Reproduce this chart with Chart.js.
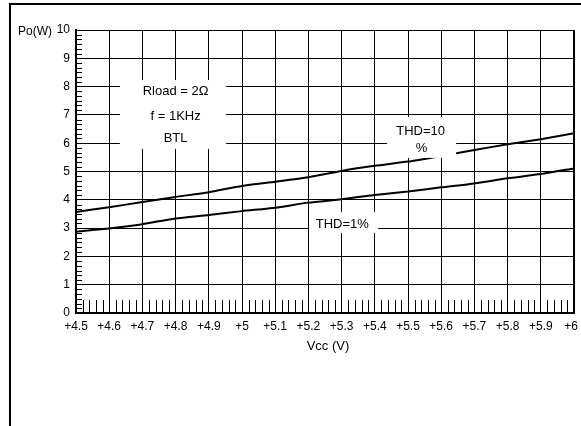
<!DOCTYPE html>
<html>
<head>
<meta charset="utf-8">
<script src="https://cdn.jsdelivr.net/npm/chart.js@4/dist/chart.umd.min.js"></script>
<style>
  html, body { margin: 0; padding: 0; background: #fff; }
  #wrap { position: relative; width: 581px; height: 426px; overflow: hidden; }
  #frame { position: absolute; left: 9px; top: 3px; right: -2px; bottom: -2px;
           border-left: 2px solid #000; border-top: 2px solid #000; }
  canvas { position: absolute; left: 0; top: 0; }
</style>
</head>
<body>
<div id="wrap">
  <div id="frame"></div>
  <canvas id="c" width="581" height="426"></canvas>
</div>
<script>
/* ===== datos ===== */
const vcc   = [4.5, 4.6, 4.7, 4.8, 4.9, 5.0, 5.1, 5.2, 5.3, 5.4, 5.5, 5.6, 5.7, 5.8, 5.9, 6.0];
const thd10 = [3.57, 3.74, 3.92, 4.10, 4.27, 4.49, 4.64, 4.80, 5.02, 5.20, 5.35, 5.55, 5.76, 5.96, 6.14, 6.35];
const thd1  = [2.87, 2.99, 3.14, 3.34, 3.46, 3.60, 3.72, 3.90, 4.02, 4.17, 4.29, 4.44, 4.58, 4.76, 4.91, 5.11];
const xMin = 4.5, xMax = 6.0, xStep = 0.1;
const yMin = 0, yMax = 10, yStep = 1;

/* etiquetas dentro del grafico (caja blanca + texto, en coords de datos) */
const notes = [
  { box: [4.632, 8.23, 4.952, 5.80], lines: [['Rload = 2Ω', 4.8, 7.84], ['f = 1KHz', 4.8, 6.96], ['BTL', 4.8, 6.18]] },
  { box: [5.437, 6.93, 5.645, 5.48], lines: [['THD=10', 5.538, 6.41], ['%', 5.541, 5.82]] },
  { box: [5.202, 3.57, 5.410, 2.83], lines: [['THD=1%', 5.302, 3.14]] },
];

const FONT = '"Liberation Sans", Arial, Helvetica, sans-serif';
const pts = (ys) => vcc.map((v, i) => ({ x: v, y: ys[i] }));
const fmtX = (v) => '+' + Number(v.toFixed(1));

/* ===== plugin: ticks menores, etiquetas X, cajas de texto, titulos ===== */
const decor = {
  id: 'decor',
  afterDatasetsDraw(chart) {
    const { ctx, chartArea: a, scales: { x, y } } = chart;
    ctx.save();
    ctx.strokeStyle = '#000';
    ctx.lineWidth = 1;
    ctx.beginPath();
    const nx = Math.round((xMax - xMin) / xStep);
    for (let i = 0; i < nx; i++) {
      for (let k = 1; k <= 4; k++) {
        const px = Math.round(x.getPixelForValue(xMin + i * xStep + k * xStep / 5)) + 0.5;
        ctx.moveTo(px, a.bottom);
        ctx.lineTo(px, a.bottom - 13);
      }
    }
    for (let i = yMin; i < yMax; i++) {
      for (let k = 1; k <= 5; k++) {
        const py = Math.round(y.getPixelForValue(i + k / 6)) + 0.5;
        ctx.moveTo(a.left, py);
        ctx.lineTo(a.left + 6, py);
      }
    }
    ctx.stroke();

    // etiquetas del eje X (la ultima se corre un poco para no cortarse)
    ctx.fillStyle = '#000';
    ctx.font = '12px ' + FONT;
    ctx.textBaseline = 'middle';
    x.ticks.forEach((t, i) => {
      const last = i === x.ticks.length - 1;
      ctx.textAlign = last ? 'right' : 'center';
      const px = x.getPixelForValue(t.value) + (last ? 4 : 0);
      ctx.fillText(fmtX(t.value), px, a.bottom + 14);
    });

    // cajas
    ctx.font = '13px ' + FONT;
    ctx.textAlign = 'center';
    for (const n of notes) {
      const [x0, y0, x1, y1] = n.box;
      const l = x.getPixelForValue(x0), t = y.getPixelForValue(y0);
      const r = x.getPixelForValue(x1), b = y.getPixelForValue(y1);
      ctx.fillStyle = '#fff';
      ctx.fillRect(l, t, r - l, b - t);
      ctx.fillStyle = '#000';
      for (const [txt, tx, ty] of n.lines) {
        ctx.fillText(txt, x.getPixelForValue(tx), y.getPixelForValue(ty));
      }
    }

    // titulos de ejes
    ctx.fillText('Vcc (V)', (a.left + a.right) / 2 + 3, a.bottom + 33);
    ctx.font = '12px ' + FONT;
    ctx.textAlign = 'left';
    ctx.fillText('Po(W)', 18, a.top + 2);
    ctx.restore();
  }
};

const line = (data) => ({
  data,
  borderColor: '#000',
  borderWidth: 2,
  pointRadius: 0,
  tension: 0.2,
  fill: false,
});

new Chart(document.getElementById('c'), {
  type: 'line',
  data: { datasets: [line(pts(thd10)), line(pts(thd1))] },
  options: {
    responsive: false,
    animation: false,
    events: [],
    layout: { padding: { left: 0, top: 30, right: 7, bottom: 83 } },
    plugins: { legend: { display: false }, tooltip: { enabled: false } },
    scales: {
      x: {
        type: 'linear',
        min: xMin, max: xMax,
        ticks: { stepSize: xStep, display: false, autoSkip: false },
        grid: {
          color: '#000',
          drawTicks: false,
          lineWidth: (c) => (c.tick && Math.abs(c.tick.value - xMax) < 1e-6 ? 2 : 1),
        },
        border: { display: true, color: '#000', width: 2 },
        afterFit: (s) => { s.height = 30; s.paddingLeft = 0; s.paddingRight = 0; },
      },
      y: {
        min: yMin, max: yMax,
        ticks: {
          stepSize: yStep,
          padding: 6,
          color: '#000',
          font: { family: FONT, size: 12 },
        },
        grid: { color: '#000', drawTicks: false, lineWidth: 1 },
        border: { display: true, color: '#000', width: 2 },
        afterFit: (s) => { s.width = 76; s.paddingTop = 0; s.paddingBottom = 0; },
      },
    },
  },
  plugins: [decor],
});
</script>
</body>
</html>
